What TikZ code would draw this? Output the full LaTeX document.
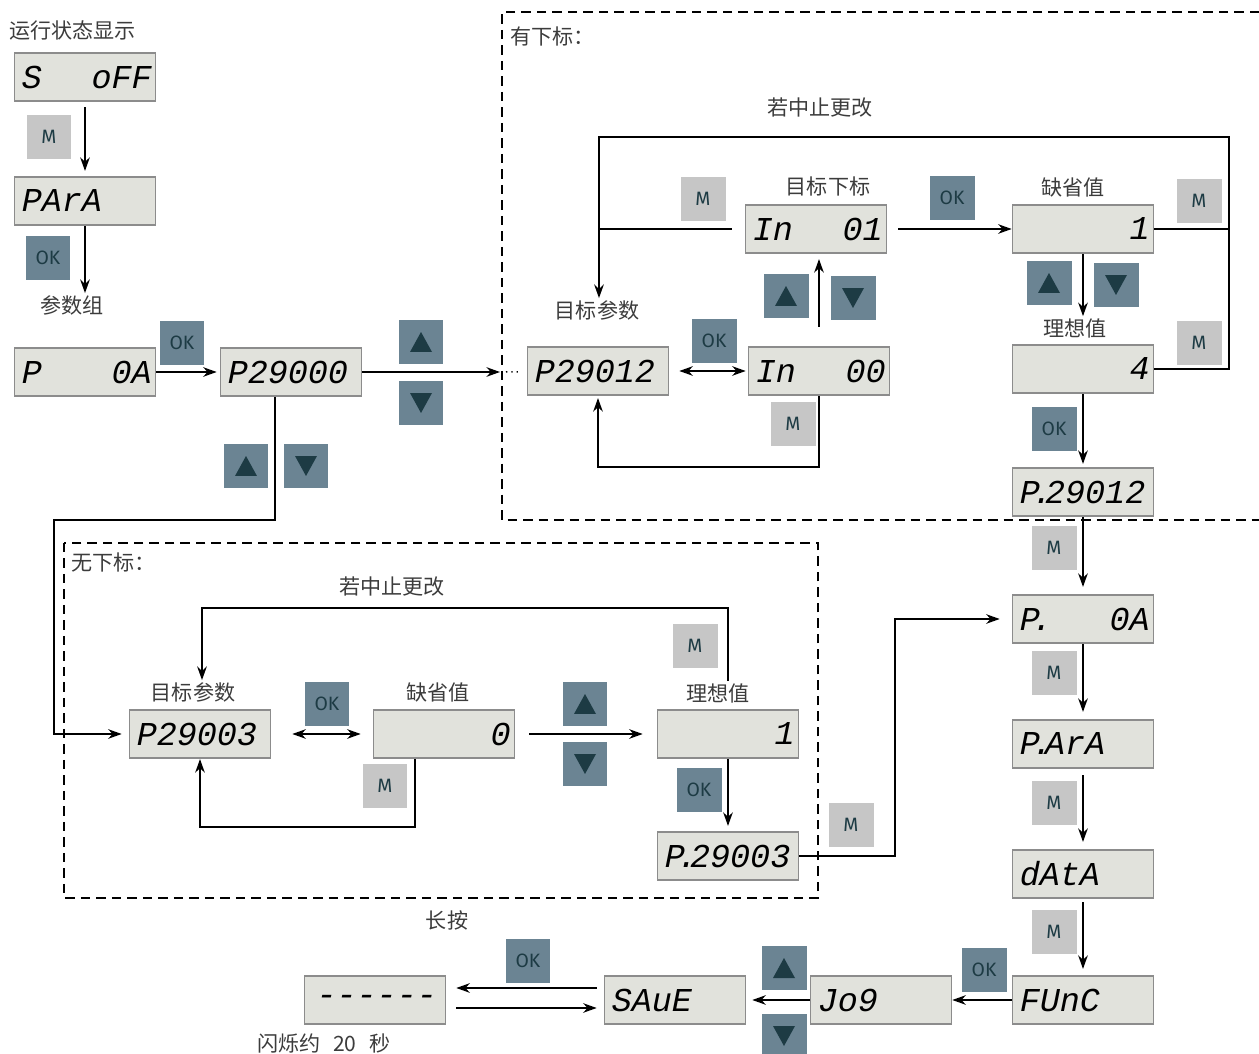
\documentclass[tikz,border=0pt]{standalone}
\usepackage{fontspec}
\usetikzlibrary{arrows.meta,calc}
\newfontfamily\cjk{Noto Sans CJK SC}
\newfontfamily\lcdface{Liberation Mono}[FakeSlant=0.2]
\newfontfamily\keyface{Fira Sans}
\definecolor{lcdbg}{HTML}{E1E2DC}
\definecolor{lcdedge}{HTML}{8C8C8C}
\definecolor{mgray}{HTML}{C6C6C6}
\definecolor{okblue}{HTML}{6B8493}
\definecolor{keyink}{HTML}{1D3B44}
\definecolor{lblink}{HTML}{3C3C3C}
\newcommand{\lcdfont}{\lcdface\fontsize{19}{19}\selectfont}
\newcommand{\pdot}{\makebox[0.16em][c]{.}}

\tikzset{
  lcd/.style={draw=lcdedge, fill=lcdbg, line width=0.9pt, minimum width=2.82cm,
    minimum height=0.97cm, inner sep=0pt, text width=2.6cm, align=left, font=\lcdfont},
  lcdr/.style={lcd, align=right},
  lcdc/.style={lcd, align=center},
  keym/.style={fill=mgray, minimum size=0.9cm, inner sep=0pt, text=keyink,
    font=\keyface\fontsize{11}{11}\selectfont},
  keyok/.style={keym, fill=okblue},
  keyup/.style={keyok, path picture={\fill[keyink] ([yshift=0.2cm]path picture bounding box.center)
    -- ++(-0.22cm,-0.4cm) -- ++(0.44cm,0cm) -- cycle;}},
  keydn/.style={keyok, path picture={\fill[keyink] ([yshift=-0.2cm]path picture bounding box.center)
    -- ++(-0.22cm,0.4cm) -- ++(0.44cm,0cm) -- cycle;}},
  lbl/.style={text=lblink, font=\cjk\fontsize{12}{14}\selectfont, inner sep=1pt},
  line/.style={line width=1.4pt},
  conn/.style={line, -{Stealth[length=0.27cm,width=0.19cm]}},
  dconn/.style={line, {Stealth[length=0.27cm,width=0.19cm]}-{Stealth[length=0.27cm,width=0.19cm]}},
  frame/.style={line width=1.5pt, dash pattern=on 0.19cm off 0.12cm},
}

\begin{document}
\begin{tikzpicture}[x=0.02cm, y=-0.02cm]
\useasboundingbox (0,0) rectangle (1259,1054);

% Frames
\draw[frame] (1259,12) -- (502,12) -- (502,520) -- (1259,520);
\draw[frame] (64,543) rectangle (818,898);
\node[lbl, anchor=west] (t_has) at (508,36) {有下标：};
\node[lbl, anchor=west] (t_none) at (69,562) {无下标：};

% Main menu
\node[lbl, anchor=west] (t_run) at (7,30) {运行状态显示};
\node[lcd] (d_soff) at (85,77) {S\hfill oFF};
\node[keym] (k_m1) at (49,137) {M};
\node[lcd] (d_para) at (85,201) {PArA};
\node[keyok] (k_ok1) at (48,258) {OK};
\node[lbl] (t_grp) at (72,305) {参数组};
\node[lcd] (d_p0a) at (85,372) {P\hfill 0A};
\node[keyok] (k_ok2) at (182,343) {OK};
\node[lcd] (d_p29000) at (291,372) {P29000};
\node[keyup] (k_up1) at (421,342) {};
\node[keydn] (k_dn1) at (421,403) {};
\node[keyup] (k_up2) at (246,466) {};
\node[keydn] (k_dn2) at (306,466) {};
\coordinate (gate) at (500,372);
\coordinate (c_lft) at (54,520);

\draw[conn, shorten <=0.1cm, shorten >=0.1cm] (d_soff) -- (d_para);
\draw[conn] (d_para) -- (d_para.south |- t_grp.north);
\draw[conn, shorten >=0.06cm] (d_p0a) -- (d_p29000);
\draw[conn] (d_p29000) -- (gate);

% With index
\node[lbl] (t_abort1) at (820,108) {若中止更改};
\node[lbl] (t_tpar1) at (597,310) {目标参数};
\node[lcd] (d_p29012) at (598,371) {P29012};
\node[keyok] (k_ok3) at (714,341) {OK};
\node[lcd] (d_in00) at (819,371) {In\hfill 00};
\node[keym] (k_m2) at (793,424) {M};
\node[keyup] (k_up3) at (786,296) {};
\node[keydn] (k_dn3) at (853,298) {};
\node[lbl] (t_tidx) at (828,186) {目标下标};
\node[lcd] (d_in01) at (816,229) {In\hfill 01};
\node[keym] (k_m3) at (703,199) {M};
\node[keyok] (k_ok4) at (952,198) {OK};
\node[lbl] (t_def1) at (1073,187) {缺省值};
\node[lcdr] (d_def1) at (1083,229) {1};
\node[keym] (k_m4) at (1199,201) {M};
\node[keyup] (k_up4) at (1049,283) {};
\node[keydn] (k_dn4) at (1116,285) {};
\node[lbl] (t_set1) at (1075,328) {理想值};
\node[lcdr] (d_set1) at (1083,369) {4};
\node[keym] (k_m5) at (1199,343) {M};
\node[keyok] (k_ok5) at (1054,429) {OK};
\node[lcd] (d_pd29012) at (1083,492) {P\pdot 29012};
\coordinate (c_tl) at (599,137);
\coordinate (c_tr) at (1229,137);
\coordinate (c_bl) at (598,467);

\draw[line width=0.8pt, dash pattern=on 0.8pt off 2.2pt, shorten <=0.12cm, shorten >=0.12cm] (gate) -- (d_p29012);
\draw[conn] (d_set1.east) -| (c_tr) -- (c_tl) -- (c_tl |- t_tpar1.north);
\draw[line] (d_def1.east) -- (d_def1.east -| c_tr);
\draw[line, shorten <=0.26cm] (d_in01.west) -- (d_in01.west -| c_tl);
\draw[conn, shorten <=0.22cm] (d_in01) -- (d_def1);
\draw[dconn, shorten <=0.2cm, shorten >=0.04cm] (d_p29012) -- (d_in00);
\draw[conn, shorten <=0.38cm, shorten >=0.1cm] (d_in00.north) -- (d_in00.north |- d_in01.south);
\draw[conn, shorten >=0.04cm] (d_in00.south) |- (c_bl) -- (d_p29012.south);
\draw[conn] (d_def1) -- (d_def1.south |- t_set1.north);
\draw[conn, shorten >=0.06cm] (d_set1) -- (d_pd29012);

% Right column
\foreach \y [count=\i] in {548,673,803,932}
  \node[keym] (k_mr\i) at (1054,\y) {M};
\node[lcd] (d_pd0a) at (1083,619) {P\pdot\hfill 0A};
\node[lcd] (d_pdpara) at (1083,744) {P\pdot ArA};
\node[lcd] (d_data) at (1083,874) {dAtA};
\node[lcd] (d_func) at (1083,1000) {FUnC};
\node[keyok] (k_ok6) at (984,970) {OK};
\node[lcd] (d_jog) at (881,1000) {Jo9};
\node[keyup] (k_up5) at (784,968) {};
\node[keydn] (k_dn5) at (784,1036) {};
\node[lcd] (d_save) at (675,1000) {SAuE};
\node[keyok] (k_ok7) at (528,961) {OK};
\node[lbl] (t_long) at (447,920) {长按};
\node[lcdc] (d_dash) at (375,1000) {------};
\node[lbl, anchor=west] (t_flash) at (255,1043) {闪烁约\hspace{0.6em}20\hspace{0.6em}秒};

\draw[conn, shorten >=0.14cm] (d_pd29012) -- (d_pd0a);
\draw[conn, shorten >=0.14cm] (d_pd0a) -- (d_pdpara);
\draw[conn, shorten <=0.12cm, shorten >=0.14cm] (d_pdpara) -- (d_data);
\draw[conn, shorten <=0.06cm, shorten >=0.12cm] (d_data) -- (d_func);
\draw[conn] (d_func) -- (d_jog);
\draw[conn, shorten >=0.12cm] (d_jog) -- (d_save);
\draw[conn, shorten <=0.14cm, shorten >=0.2cm] ([yshift=0.24cm]d_save.west) -- ([yshift=0.24cm]d_dash.east);
\draw[conn, shorten <=0.2cm, shorten >=0.14cm] ([yshift=-0.16cm]d_dash.east) -- ([yshift=-0.16cm]d_save.west);

% Without index
\node[lbl] (t_abort2) at (392,587) {若中止更改};
\node[lbl] (t_tpar2) at (193,692) {目标参数};
\node[lcd] (d_p29003) at (200,734) {P29003};
\node[keyok] (k_ok8) at (327,704) {OK};
\node[lbl] (t_def2) at (438,692) {缺省值};
\node[lcdr] (d_def2) at (444,734) {0};
\node[keym] (k_m6) at (385,786) {M};
\node[keyup] (k_up6) at (585,704) {};
\node[keydn] (k_dn6) at (585,764) {};
\node[lbl] (t_set2) at (718,693) {理想值};
\node[lcdr] (d_set2) at (728,734) {1};
\node[keym] (k_m7) at (695,646) {M};
\node[keyok] (k_ok9) at (699,790) {OK};
\node[lcd] (d_pd29003) at (728,856) {P\pdot 29003};
\node[keym] (k_m8) at (851,825) {M};
\coordinate (c_loop2) at (202,608);
\coordinate (c_b2) at (200,827);
\coordinate (c_mid) at (895,619);

\draw[conn, shorten >=0.14cm] ([xshift=-0.32cm]d_p29000.south) |- (c_lft) |- (d_p29003);
\draw[conn] (d_set2.north |- t_set2.north) |- (c_loop2) -- (c_loop2 |- t_tpar2.north);
\draw[dconn, shorten <=0.42cm, shorten >=0.24cm] (d_p29003) -- (d_def2);
\draw[conn] ([xshift=-0.58cm]d_def2.south) |- (c_b2) -- (d_p29003);
\draw[conn, shorten <=0.28cm, shorten >=0.28cm] (d_def2) -- (d_set2);
\draw[conn, shorten >=0.1cm] (d_set2) -- (d_pd29003);
\draw[conn, shorten >=0.24cm] (d_pd29003) -| (c_mid) -- (d_pd0a);
\end{tikzpicture}
\end{document}
